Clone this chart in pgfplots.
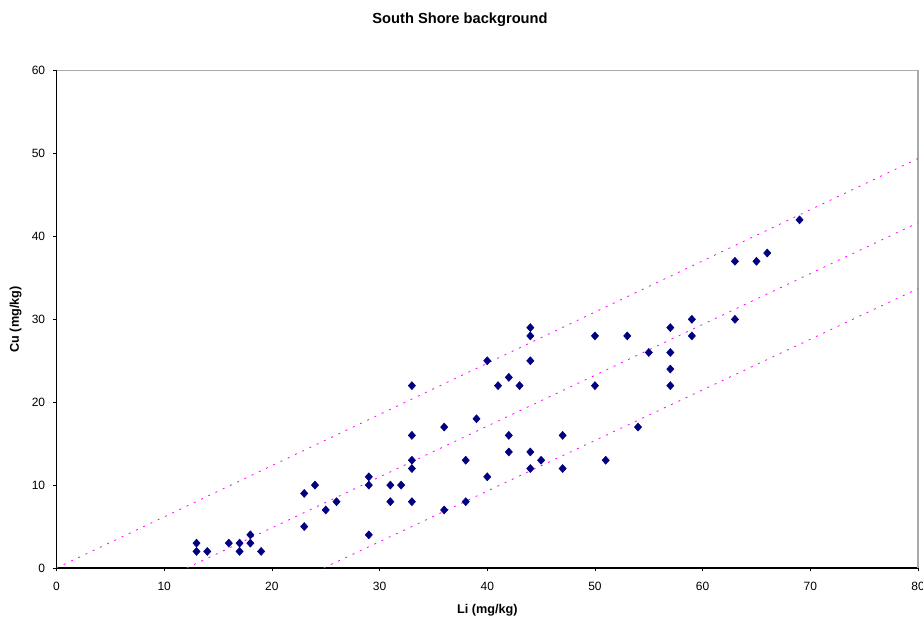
\documentclass[border=0pt]{standalone}
\usepackage{fontspec}
\setmainfont{Liberation Sans}
\usepackage{pgfplots}
\pgfplotsset{compat=1.18}

\definecolor{navymark}{RGB}{0,0,128}
\definecolor{trendpink}{RGB}{255,0,255}
\definecolor{frame}{RGB}{170,170,170}

\begin{document}
\begin{tikzpicture}
% page size: 923 x 623 px at 0.75pt/px
\path[use as bounding box] (0,0) rectangle (692.25pt,467.25pt);
\node[font=\fontsize{11}{13}\selectfont\bfseries] at (345pt,452.5pt) {South Shore background};
\begin{axis}[
    at={(42.4pt,41.25pt)}, anchor=south west,
    scale only axis,
    width=646.1pt, height=373pt,
    xmin=0, xmax=80, ymin=0, ymax=60,
    xtick={0,10,...,80}, ytick={0,10,...,60},
    axis lines=left,
    axis line style={-, black, line width=0.8pt},
    tick align=outside,
    major tick length=2.5pt,
    tick style={black, line width=0.6pt},
    ticklabel style={font=\fontsize{9}{10}\selectfont},
    xticklabel style={yshift=-4.5pt},
    yticklabel style={xshift=-2.5pt},
    /pgf/number format/assume math mode=true,
    xlabel={\textbf{Li (mg/kg)}},
    ylabel={\textbf{Cu (mg/kg)}},
    label style={font=\fontsize{9.5}{11}\selectfont},
    xlabel style={at={(axis description cs:0.5,-0.0845)}, anchor=center},
    ylabel style={at={(axis description cs:-0.0474,0.5)}, anchor=center},
    clip=false,
  ]
% plot area frame (top and right)
\draw[frame, line width=0.8pt] (rel axis cs:0,1) -- (rel axis cs:1,1) -- (rel axis cs:1,0);

% trend lines
\addplot[trendpink, line width=0.6pt, dash pattern=on 1.5pt off 4.5pt]
  coordinates {(0,0) (80,49.4)};
\addplot[trendpink, line width=0.6pt, dash pattern=on 1.5pt off 4.5pt]
  coordinates {(12.1,0) (80,41.65)};
\addplot[trendpink, line width=0.6pt, dash pattern=on 1.5pt off 4.5pt]
  coordinates {(24.8,0) (80,33.7)};

% samples
\addplot[only marks, mark=diamond*, mark size=3pt,
         mark options={fill=navymark, draw=navymark, xscale=1.2}]
  coordinates {
    (13,3) (13,2) (14,2) (16,3) (17,3) (17,2) (18,4) (18,3) (19,2)
    (23,9) (23,5) (24,10) (25,7) (26,8)
    (29,11) (29,10) (29,4)
    (31,10) (31,8) (32,10)
    (33,22) (33,16) (33,13) (33,12) (33,8)
    (36,17) (36,7)
    (38,13) (38,8)
    (39,18)
    (40,25) (40,11)
    (41,22)
    (42,23) (42,16) (42,14)
    (43,22)
    (44,29) (44,28) (44,25) (44,14) (44,12)
    (45,13)
    (47,16) (47,12)
    (50,28) (50,22)
    (51,13)
    (53,28)
    (54,17)
    (55,26)
    (57,29) (57,26) (57,24) (57,22)
    (59,30) (59,28)
    (63,37) (63,30)
    (65,37)
    (66,38)
    (69,42)
  };
\end{axis}
\end{tikzpicture}
\end{document}
